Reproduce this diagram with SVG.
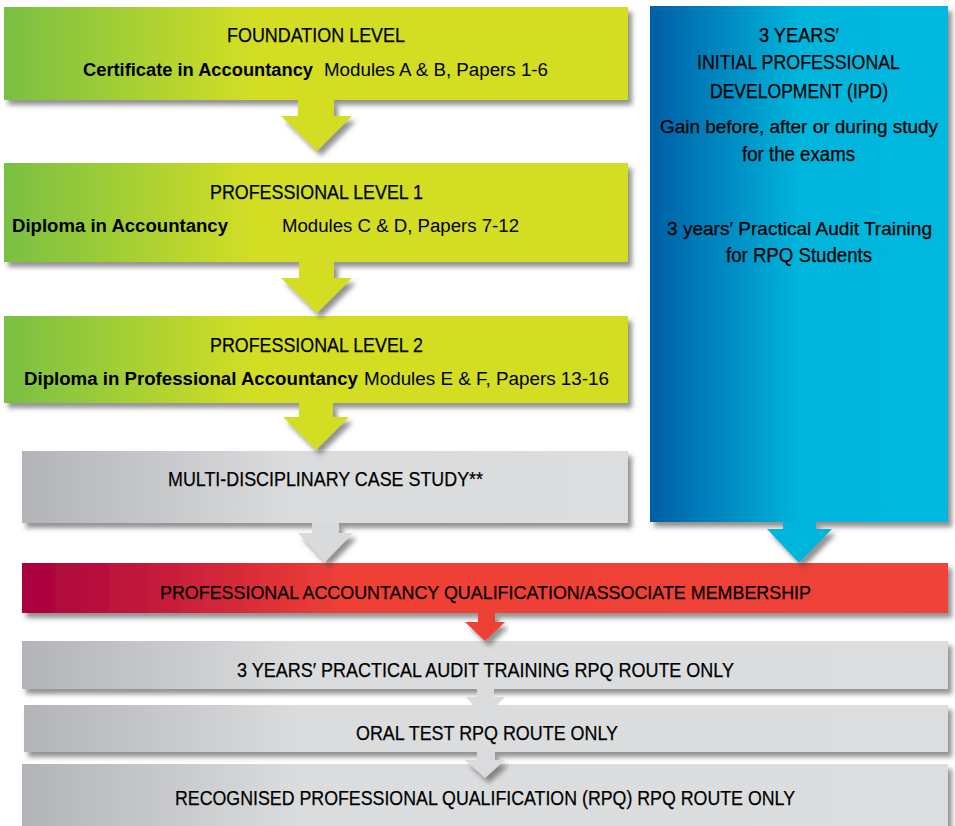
<svg xmlns="http://www.w3.org/2000/svg" width="955" height="826" viewBox="0 0 955 826">
<defs>
  <filter id="sh" x="-5%" y="-20%" width="115%" height="150%">
    <feDropShadow dx="4" dy="5" stdDeviation="2.5" flood-color="#4a4a4a" flood-opacity="0.6"/>
  </filter>
  <linearGradient id="gGreen" x1="0" y1="0" x2="1" y2="0">
    <stop offset="0" stop-color="#78c043"/>
    <stop offset="0.4" stop-color="#d3de24"/>
    <stop offset="1" stop-color="#d3de24"/>
  </linearGradient>
  <linearGradient id="gBlue" x1="0" y1="0" x2="1" y2="0">
    <stop offset="0" stop-color="#005ea6"/>
    <stop offset="0.5" stop-color="#00b5dc"/>
    <stop offset="1" stop-color="#00b8de"/>
  </linearGradient>
  <linearGradient id="gRed" x1="0" y1="0" x2="1" y2="0">
    <stop offset="0" stop-color="#a8003f"/>
    <stop offset="0.35" stop-color="#ee4136"/>
    <stop offset="1" stop-color="#ef4237"/>
  </linearGradient>
  <linearGradient id="gGrayS" x1="0" y1="0" x2="1" y2="0">
    <stop offset="0" stop-color="#b3b4b7"/>
    <stop offset="0.45" stop-color="#dbdcde"/>
    <stop offset="1" stop-color="#dcdddf"/>
  </linearGradient>
  <linearGradient id="gGrayW" x1="0" y1="0" x2="1" y2="0">
    <stop offset="0" stop-color="#b3b4b7"/>
    <stop offset="0.3" stop-color="#dbdcde"/>
    <stop offset="1" stop-color="#dcdddf"/>
  </linearGradient>
</defs>
<style>
  .box { filter: url(#sh); }
  .arr { filter: url(#sh); }
  .t { font-family: "Liberation Sans Narrow", "Liberation Sans", Arial, sans-serif; font-size: 21px; fill: #000; stroke: #000; stroke-width: 0.25; }
  .m { font-size: 19px; }
  .s { font-family: "Liberation Sans", Arial, sans-serif; font-size: 18px; fill: #000; }
  .b { font-weight: bold; }
</style>
<rect width="955" height="826" fill="#ffffff"/>

<g id="foundation">
  <rect class="box" x="4" y="7" width="624" height="93" fill="url(#gGreen)"/>
  <text class="t" x="227" y="42" textLength="178" lengthAdjust="spacingAndGlyphs">FOUNDATION LEVEL</text>
  <text class="s b" x="83" y="76" textLength="230" lengthAdjust="spacingAndGlyphs">Certificate in Accountancy</text>
  <text class="s" x="324" y="76" textLength="224" lengthAdjust="spacingAndGlyphs">Modules A &amp; B, Papers 1-6</text>
</g>

<g id="professional1">
  <rect class="box" x="4" y="163" width="624" height="99" fill="url(#gGreen)"/>
  <text class="t" x="210" y="199" textLength="213" lengthAdjust="spacingAndGlyphs">PROFESSIONAL LEVEL 1</text>
  <text class="s b" x="12" y="232" textLength="216" lengthAdjust="spacingAndGlyphs">Diploma in Accountancy</text>
  <text class="s" x="282" y="232" textLength="237" lengthAdjust="spacingAndGlyphs">Modules C &amp; D, Papers 7-12</text>
</g>

<g id="professional2">
  <rect class="box" x="4" y="316" width="624" height="87" fill="url(#gGreen)"/>
  <text class="t" x="210" y="352" textLength="213" lengthAdjust="spacingAndGlyphs">PROFESSIONAL LEVEL 2</text>
  <text class="s b" x="24" y="385" textLength="334" lengthAdjust="spacingAndGlyphs">Diploma in Professional Accountancy</text>
  <text class="s" x="364" y="385" textLength="245" lengthAdjust="spacingAndGlyphs">Modules E &amp; F, Papers 13-16</text>
</g>

<g id="casestudy">
  <rect class="box" x="22" y="451" width="606" height="72" fill="url(#gGrayS)"/>
  <text class="t" x="168" y="486" textLength="315" lengthAdjust="spacingAndGlyphs">MULTI-DISCIPLINARY CASE STUDY**</text>
</g>

<g id="ipd">
  <rect class="box" x="650" y="6" width="298" height="516" fill="url(#gBlue)"/>
  <text class="t" x="759" y="42" textLength="80" lengthAdjust="spacingAndGlyphs">3 YEARS′</text>
  <text class="t" x="697" y="69" textLength="203" lengthAdjust="spacingAndGlyphs">INITIAL PROFESSIONAL</text>
  <text class="t" x="710" y="98" textLength="178" lengthAdjust="spacingAndGlyphs">DEVELOPMENT (IPD)</text>
  <text class="t m" x="660" y="133" textLength="278" lengthAdjust="spacingAndGlyphs">Gain before, after or during study</text>
  <text class="t" x="742" y="161" textLength="113" lengthAdjust="spacingAndGlyphs">for the exams</text>
  <text class="t m" x="667" y="235" textLength="265" lengthAdjust="spacingAndGlyphs">3 years′ Practical Audit Training</text>
  <text class="t" x="726" y="262" textLength="146" lengthAdjust="spacingAndGlyphs">for RPQ Students</text>
</g>

<g id="membership">
  <rect class="box" x="22" y="563" width="926" height="50" fill="url(#gRed)"/>
  <text class="t m" x="160" y="599" textLength="651" lengthAdjust="spacingAndGlyphs">PROFESSIONAL ACCOUNTANCY QUALIFICATION/ASSOCIATE MEMBERSHIP</text>
</g>

<g id="audittraining">
  <rect class="box" x="22" y="641" width="926" height="48" fill="url(#gGrayW)"/>
  <text class="t" x="237" y="677" textLength="497" lengthAdjust="spacingAndGlyphs">3 YEARS′ PRACTICAL AUDIT TRAINING RPQ ROUTE ONLY</text>
</g>

<g id="oraltest">
  <rect class="box" x="24" y="705" width="924" height="47" fill="url(#gGrayW)"/>
  <text class="t" x="356" y="740" textLength="262" lengthAdjust="spacingAndGlyphs">ORAL TEST RPQ ROUTE ONLY</text>
</g>

<g id="rpq">
  <rect class="box" x="22" y="764" width="926" height="70" fill="url(#gGrayW)"/>
  <text class="t" x="175" y="805" textLength="620" lengthAdjust="spacingAndGlyphs">RECOGNISED PROFESSIONAL QUALIFICATION (RPQ) RPQ ROUTE ONLY</text>
</g>

<g id="connectors">
  <polygon class="arr" fill="#d3de24" points="298,100 334,100 334,116 352,116 317,151 281,116 298,116"/>
  <polygon class="arr" fill="#d3de24" points="299,262 334,262 334,278 352,278 317,313 281,278 299,278"/>
  <polygon class="arr" fill="#d3de24" points="299,403 333,403 333,417 349,417 316,450 283,417 299,417"/>
  <polygon class="arr" fill="#d9dadc" points="312,523 339,523 339,533 353,533 325,562 298,533 312,533"/>
  <polygon class="arr" fill="#00b5dc" points="783,522 816,522 816,529 832,529 799,563 767,529 783,529"/>
  <polygon class="arr" fill="#ef4136" points="478,613 495,613 495,622 505,622 485,641 465,622 478,622"/>
  <polygon fill="#dadbdd" points="477,689 494,689 494,697 505,697 497,705 473,705 466,697 477,697"/>
  <polygon class="arr" fill="#dadbdd" points="477,752 495,752 495,760 505,760 485,778 465,760 477,760"/>
</g>
</svg>
